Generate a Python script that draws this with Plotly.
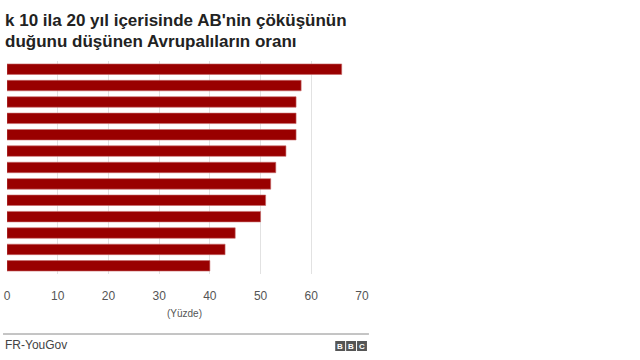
import plotly.graph_objects as go

countries = ["Slovakya", "Fransa", "Romanya", "Polonya", "İtalya", "Avusturya", "Macaristan",
             "Yunanistan", "Çek Cumhuriyeti", "Almanya", "İspanya", "İsveç", "Danimarka"]
values = [66, 58, 57, 57, 57, 55, 53, 52, 51, 50, 45, 43, 40]
xticks = [0, 10, 20, 30, 40, 50, 60, 70]

title_line1 = "k 10 ila 20 yıl içerisinde AB'nin çöküşünün"
title_line2 = "duğunu düşünen Avrupalıların oranı"
axis_note = "(Yüzde)"
source = "FR-YouGov"

BAR = "#990000"
FONT = "Liberation Sans, Arial, sans-serif"

fig = go.Figure(go.Bar(
    x=values, y=countries, orientation="h",
    marker=dict(color=BAR, line=dict(color="#c86a6a", width=0.6)),
    hoverinfo="x+y",
))

fig.update_layout(
    width=640, height=360,
    margin=dict(l=4, r=278, t=61, b=86),
    paper_bgcolor="white", plot_bgcolor="white",
    showlegend=False, bargap=0.36,
    font=dict(family=FONT, color="#555555"),
    xaxis=dict(range=[0, 70], tickvals=xticks, showgrid=True, gridcolor="#e2e2e2",
               gridwidth=1, zeroline=False, showline=False,
               ticks="outside", ticklen=11, tickcolor="rgba(0,0,0,0)",
               tickfont=dict(size=12, color="#555555", family=FONT)),
    yaxis=dict(autorange="reversed", showticklabels=False, showgrid=False,
               zeroline=False, showline=False, ticks=""),
)

def px_x(p):
    return (p - 4) / 358.0

def px_y(p):
    return (274 - p) / 213.0

anns = [
    dict(text="<b>" + title_line1 + "</b>", x=px_x(0), y=px_y(21), xanchor="left", yanchor="middle",
         font=dict(size=17, color="#222222", family=FONT)),
    dict(text="<b>" + title_line2 + "</b>", x=px_x(0), y=px_y(41), xanchor="left", yanchor="middle",
         font=dict(size=17, color="#222222", family=FONT)),
    dict(text=axis_note, x=0.5, y=px_y(313), xanchor="center", yanchor="middle",
         font=dict(size=10, color="#555555", family=FONT)),
    dict(text=source, x=px_x(0), y=px_y(345), xanchor="left", yanchor="middle",
         font=dict(size=12, color="#444444", family=FONT)),
]
shapes = [
    dict(type="line", xref="paper", yref="paper", x0=px_x(0), x1=px_x(369),
         y0=px_y(334), y1=px_y(334), line=dict(color="#8a8a8a", width=1)),
]
for i, letter in enumerate("BBC"):
    x0 = 335 + i * 11
    shapes.append(dict(type="rect", xref="paper", yref="paper", x0=px_x(x0), x1=px_x(x0 + 10),
                       y0=px_y(351), y1=px_y(341), fillcolor="#555555", line=dict(width=0)))
    anns.append(dict(text="<b>" + letter + "</b>", x=px_x(x0 + 5), y=px_y(346), xanchor="center",
                     yanchor="middle", font=dict(size=8, color="white", family=FONT)))

for a in anns:
    a.update(xref="paper", yref="paper", showarrow=False)
fig.update_layout(annotations=anns, shapes=shapes)

fig.write_html("out.html", config={"displayModeBar": False},
               post_script="document.body.style.margin='0';")
